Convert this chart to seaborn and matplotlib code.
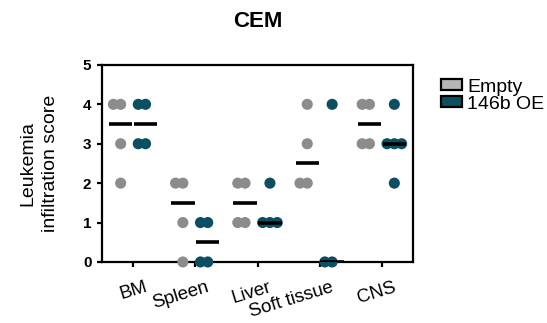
import numpy as np
import matplotlib
matplotlib.use("Agg")
import matplotlib.pyplot as plt
import matplotlib.transforms as mtransforms
from matplotlib.patches import Patch
import pandas as pd
import seaborn as sns

# data (scores per animal)
tissues = ["BM", "Spleen", "Liver", "Soft tissue", "CNS"]
groups = ["Empty", "146b OE"]
empty_scores = [[4, 4, 3, 2], [2, 2, 1, 0], [2, 2, 1, 1], [4, 3, 2, 2], [4, 4, 3, 3]]
oe_scores = [[4, 4, 3, 3], [1, 1, 0, 0], [2, 1, 1, 1], [4, 0, 0], [4, 3, 3, 3, 2]]

rows = []
for t, vals in zip(tissues, empty_scores):
    for v in vals:
        rows.append({"tissue": t, "group": "Empty", "score": v})
for t, vals in zip(tissues, oe_scores):
    for v in vals:
        rows.append({"tissue": t, "group": "146b OE", "score": v})
df = pd.DataFrame(rows)

sns.set_style("ticks")
plt.rcParams["font.family"] = ["Liberation Sans", "DejaVu Sans"]
for k in ["text.color", "axes.labelcolor", "xtick.color", "ytick.color"]:
    plt.rcParams[k] = "black"

col_empty = "#8c8c8c"
col_oe = "#0d4f62"
pal = {"Empty": col_empty, "146b OE": col_oe}

fig = plt.figure(figsize=(5.47, 3.23), dpi=100)
ax = fig.add_axes([0.1865, 0.189, 0.5685, 0.61])

# swarm laid out with small markers so that ties overlap a bit
sns.swarmplot(data=df, x="tissue", y="score", hue="group", order=tissues,
              hue_order=groups, palette=pal, dodge=True, size=5.0,
              linewidth=0, ax=ax, legend=False)
swarm_cols = list(ax.collections)

# median lines
sns.boxplot(data=df, x="tissue", y="score", hue="group", order=tissues,
            hue_order=groups, dodge=True, width=0.8, gap=0.06,
            showbox=False, showcaps=False, showfliers=False, whis=0,
            whiskerprops={"visible": False},
            medianprops={"color": "black", "linewidth": 2.6, "zorder": 5},
            ax=ax, legend=False)

ax.set_xlim(-0.5, 4.5)
ax.set_ylim(0, 5)
ax.set_yticks([0, 1, 2, 3, 4, 5])
for s in ax.spines.values():
    s.set_linewidth(1.6)
    s.set_color("black")
ax.tick_params(axis="both", width=1.6, length=3.6, color="black")
ax.tick_params(axis="x", pad=8.5)
ax.tick_params(axis="y", pad=4)
ax.set_yticklabels([str(i) for i in range(6)], fontsize=11, fontweight="bold")
ax.set_xticks(range(len(tissues)))
ax.set_xticklabels(tissues, rotation=17, fontsize=13.5, ha="right", va="top",
                   rotation_mode="anchor")
shift = mtransforms.ScaledTranslation(11 / 100, 0, fig.dpi_scale_trans)
for lab in ax.get_xticklabels():
    lab.set_transform(lab.get_transform() + shift)
ax.set_xlabel("")
ax.set_ylabel("Leukemia\ninfiltration score", fontsize=14, labelpad=17,
              linespacing=1.45)
ax.set_title("CEM", fontsize=16, fontweight="bold", pad=27)

handles = [Patch(facecolor="#b5b5b5", edgecolor="black", linewidth=1.6, label="Empty"),
           Patch(facecolor=col_oe, edgecolor="black", linewidth=1.6, label="146b OE")]
ax.legend(handles=handles, loc="upper left", bbox_to_anchor=(1.09, 0.93),
          frameon=False, fontsize=14, handlelength=1.1, handleheight=0.5,
          handletextpad=0.25, labelspacing=0.0, borderaxespad=0, borderpad=0)

# fix the swarm positions, then draw the markers at full size
fig.canvas.draw()
for c in swarm_cols:
    if "draw" in c.__dict__:
        del c.draw
    c.set_sizes([8.0 ** 2])
    c.set_clip_on(False)
    c.set_zorder(3)

fig.savefig("out.png", dpi=100)
